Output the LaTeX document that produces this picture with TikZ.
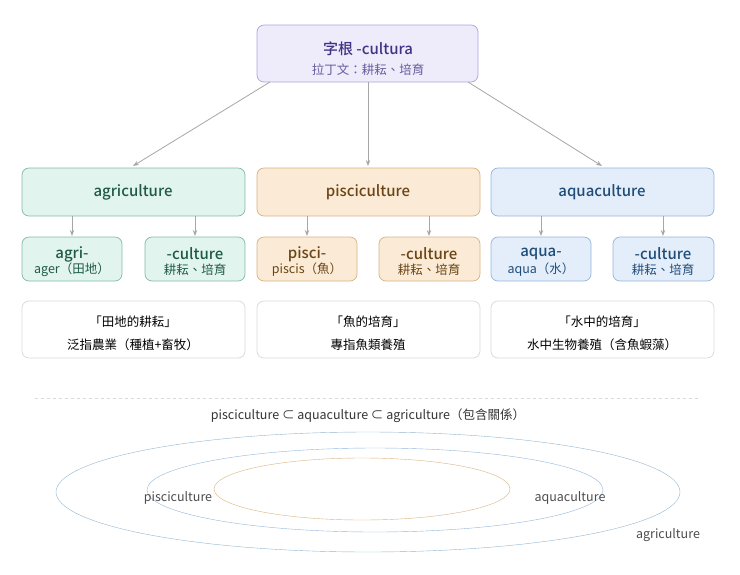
\documentclass[tikz,border=0pt]{standalone}
\usepackage{fontspec}
\setmainfont{Noto Sans CJK TC}
\newfontfamily\medfont{Noto Sans CJK TC Medium}
\usetikzlibrary{arrows.meta}
\definecolor{rootfill}{HTML}{EEEBFB}
\definecolor{rootline}{HTML}{ABA5DB}
\definecolor{roottext}{HTML}{3E3485}
\definecolor{agfill}{HTML}{E2F4EE}
\definecolor{agline}{HTML}{82BBA6}
\definecolor{agtext}{HTML}{1F5A48}
\definecolor{pifill}{HTML}{FBEBD6}
\definecolor{piline}{HTML}{D8B382}
\definecolor{pitext}{HTML}{6A4415}
\definecolor{aqfill}{HTML}{E4EEFA}
\definecolor{aqline}{HTML}{93B5DC}
\definecolor{aqtext}{HTML}{1F4D78}
\tikzset{box/.style = {draw, rounded corners=7pt, line width=0.7pt},
         arrow/.style = {thick, -{Stealth[length=6pt,open]}, draw=gray!70, line width=0.8pt},
         big/.style = {font=\fontsize{15}{17}\selectfont\medfont},
         small/.style = {font=\fontsize{12.5}{14}\selectfont}}
\begin{document}
\begin{tikzpicture}[x=1pt,y=-1pt]
        \useasboundingbox (0,0) rectangle (740,574);

        % root
        \draw[box, fill=rootfill, draw=rootline] (257,25) rectangle (478,82);
        \node[big, text=roottext] (root) at (368,49) {字根 -cultura};
        \node[small, text=roottext!80] (rootsub) at (368,70) {拉丁文：耕耘、培育};
        \coordinate (rootL) at (270,82);
        \coordinate (rootM) at (368,82);
        \coordinate (rootR) at (468,82);

        % middle row
        \draw[box, fill=agfill, draw=agline] (22,168) rectangle (245,216);
        \draw[box, fill=pifill, draw=piline] (257,168) rectangle (480,216);
        \draw[box, fill=aqfill, draw=aqline] (491,168) rectangle (714,216);
        \node[big, text=agtext] (agri) at (133,192) {agriculture};
        \node[big, text=pitext] (pisci) at (368,192) {pisciculture};
        \node[big, text=aqtext] (aqua) at (602,192) {aquaculture};

        % parts
        \draw[box, fill=agfill, draw=agline] (22,237) rectangle (122,281);
        \draw[box, fill=agfill, draw=agline] (145,237) rectangle (245,281);
        \draw[box, fill=pifill, draw=piline] (257,237) rectangle (357,281);
        \draw[box, fill=pifill, draw=piline] (379,237) rectangle (480,281);
        \draw[box, fill=aqfill, draw=aqline] (491,237) rectangle (591,281);
        \draw[box, fill=aqfill, draw=aqline] (613,237) rectangle (714,281);

        \node[big, text=agtext] (agriA) at (72,254) {agri-};
        \node[small, text=agtext] at (72,270) {ager（田地）};
        \node[big, text=agtext] (agriB) at (195,254) {-culture};
        \node[small, text=agtext] at (195,270) {耕耘、培育};
        \node[big, text=pitext] (pisciA) at (307,254) {pisci-};
        \node[small, text=pitext] at (307,270) {piscis（魚）};
        \node[big, text=pitext] (pisciB) at (429,254) {-culture};
        \node[small, text=pitext] at (429,270) {耕耘、培育};
        \node[big, text=aqtext] (aquaA) at (541,254) {aqua-};
        \node[small, text=aqtext] at (541,270) {aqua（水）};
        \node[big, text=aqtext] (aquaB) at (663,254) {-culture};
        \node[small, text=aqtext] at (663,270) {耕耘、培育};

        % Draw Arrows
        \draw[arrow] (rootL) -- (133,166);
        \draw[arrow] (rootM) -- (368,166);
        \draw[arrow] (rootR) -- (602,166);
        \foreach \x in {72,195,307,429,541,663}
            \draw[arrow] (\x,216) -- (\x,236);

        % descriptions
        \draw[box, fill=white, draw=gray!30] (22,301) rectangle (245,358);
        \draw[box, fill=white, draw=gray!30] (257,301) rectangle (480,358);
        \draw[box, fill=white, draw=gray!30] (491,301) rectangle (714,358);
        \node[small] (agriD) at (133,322) {「田地的耕耘」};
        \node[small] at (133,345) {泛指農業（種植+畜牧）};
        \node[small] (pisciD) at (368,322) {「魚的培育」};
        \node[small] at (368,345) {專指魚類養殖};
        \node[small] (aquaD) at (602,322) {「水中的培育」};
        \node[small] at (602,345) {水中生物養殖（含魚蝦藻）};

        \draw[gray!30, dashed] (35,398) -- (700,398);
        \node[small, text=gray!40!black] (incl) at (368,416) {pisciculture ⊂ aquaculture ⊂ agriculture（包含關係）};

        % nested sets
        \draw[aqline!80!agline] (368,492) ellipse (312 and 60);
        \draw[aqline] (375,490) ellipse (228 and 42);
        \draw[piline] (362,489) ellipse (148 and 31);
        \node[small, text=gray!60!black] (setP) at (178,498) {pisciculture};
        \node[small, text=gray!60!black] (setQ) at (570,498) {aquaculture};
        \node[small, text=gray!60!black] (setA) at (668,535) {agriculture};
    \end{tikzpicture}
\end{document}
